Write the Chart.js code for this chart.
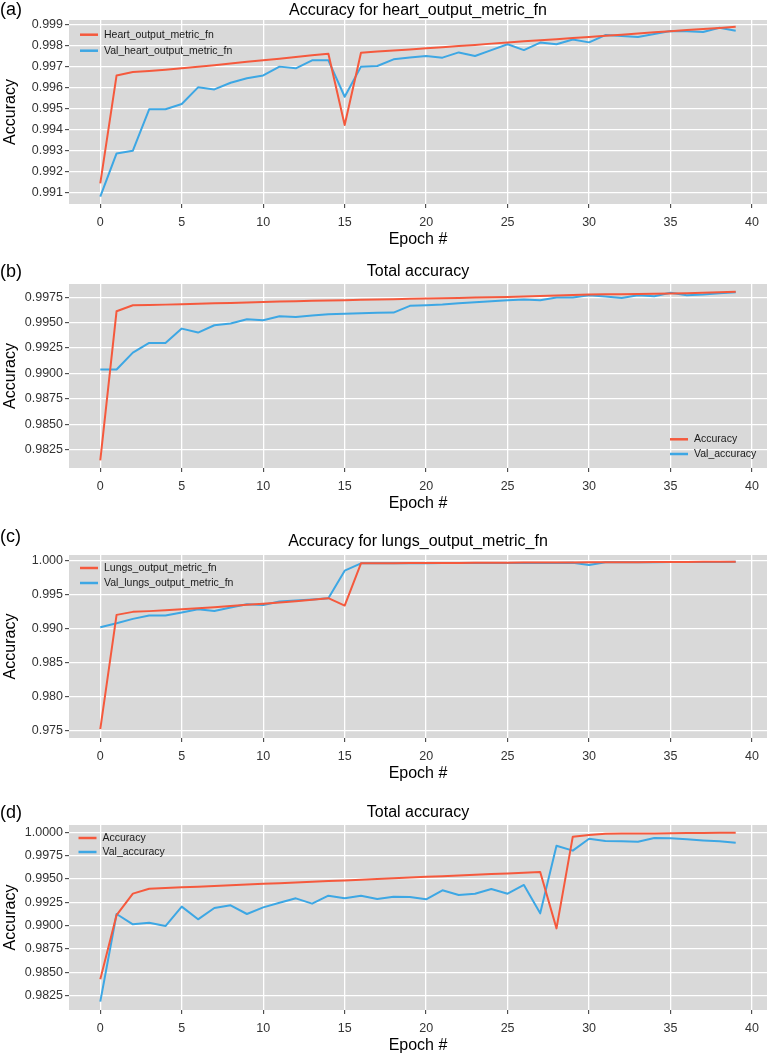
<!DOCTYPE html>
<html lang="en">
<head>
<meta charset="UTF-8">
<title>Accuracy curves</title>
<script src="https://cdn.jsdelivr.net/npm/chart.js"></script>
<style>
  body { margin: 0; background: #fff; }
  #wrap { position: relative; width: 767px; height: 1055px; overflow: hidden; }
  canvas { position: absolute; left: 0; }
</style>
</head>
<body>
<div id="wrap">
  <canvas id="chartA" width="767" height="252" style="top:0px"></canvas>
  <canvas id="chartB" width="767" height="264" style="top:252px"></canvas>
  <canvas id="chartC" width="767" height="270" style="top:516px"></canvas>
  <canvas id="chartD" width="767" height="272" style="top:786px"></canvas>
</div>
<script>
// epochs (x categories)
const epochs = [0,1,2,3,4,5,6,7,8,9,10,11,12,13,14,15,16,17,18,19,20,21,22,23,24,25,26,27,28,29,30,31,32,33,34,35,36,37,38,39];
const xTickLabels = ['0','5','10','15','20','25','30','35','40'];

// (a) heart output
const heartTrain = [0.99143,0.99659,0.99675,0.99680,0.99686,0.99693,0.99700,0.99708,0.99716,0.99724,0.99731,0.99739,0.99747,0.99755,0.99763,0.99422,0.99767,0.99773,0.99778,0.99783,0.99789,0.99794,0.99800,0.99805,0.99811,0.99816,0.99822,0.99827,0.99832,0.99838,0.99843,0.99849,0.99854,0.99859,0.99865,0.99870,0.99876,0.99881,0.99886,0.99892];
const heartVal = [0.99079,0.99286,0.99299,0.99497,0.99497,0.99522,0.99602,0.99592,0.99624,0.99645,0.99659,0.99701,0.99693,0.99731,0.99731,0.99557,0.99701,0.99704,0.99736,0.99745,0.99752,0.99744,0.99769,0.99752,0.99780,0.99808,0.99780,0.99816,0.99808,0.99831,0.99817,0.99852,0.99847,0.99843,0.99857,0.99871,0.99870,0.99867,0.99887,0.99873];
const yLabelsA = ['0.991','0.992','0.993','0.994','0.995','0.996','0.997','0.998','0.999'];

// (b) total accuracy, first model
const totalTrainB = [0.98145,0.99612,0.99671,0.99674,0.99677,0.99681,0.99685,0.99690,0.99694,0.99699,0.99704,0.99707,0.99710,0.99714,0.99717,0.99720,0.99724,0.99728,0.99731,0.99734,0.99737,0.99740,0.99743,0.99746,0.99750,0.99753,0.99757,0.99762,0.99766,0.99771,0.99776,0.99778,0.99780,0.99782,0.99784,0.99786,0.99790,0.99794,0.99799,0.99803];
const totalValB = [0.99038,0.99038,0.99205,0.99300,0.99300,0.99441,0.99402,0.99474,0.99491,0.99533,0.99524,0.99563,0.99556,0.99569,0.99583,0.99586,0.99592,0.99596,0.99599,0.99665,0.99671,0.99678,0.99691,0.99701,0.99711,0.99720,0.99727,0.99720,0.99747,0.99747,0.99770,0.99757,0.99743,0.99770,0.99760,0.99793,0.99770,0.99776,0.99789,0.99799];
const yLabelsB = ['0.9825','0.9850','0.9875','0.9900','0.9925','0.9950','0.9975'];

// (c) lungs output
const lungsTrain = [0.97524,0.99203,0.99247,0.99258,0.99270,0.99285,0.99300,0.99316,0.99332,0.99350,0.99368,0.99386,0.99404,0.99424,0.99448,0.99340,0.99961,0.99962,0.99963,0.99964,0.99965,0.99966,0.99967,0.99968,0.99969,0.99970,0.99971,0.99972,0.99973,0.99974,0.99975,0.99976,0.99977,0.99978,0.99979,0.99980,0.99981,0.99982,0.99983,0.99985];
const lungsVal = [0.99022,0.99080,0.99144,0.99193,0.99193,0.99237,0.99286,0.99261,0.99310,0.99359,0.99349,0.99398,0.99413,0.99428,0.99447,0.99853,0.99961,0.99962,0.99962,0.99963,0.99963,0.99964,0.99964,0.99965,0.99965,0.99966,0.99966,0.99967,0.99967,0.99968,0.99936,0.99975,0.99976,0.99977,0.99978,0.99979,0.99980,0.99980,0.99981,0.99982];
const yLabelsC = ['0.975','0.980','0.985','0.990','0.995','1.000'];

// (d) total accuracy, second model
const totalTrainD = [0.98425,0.99114,0.99343,0.99396,0.99404,0.99411,0.99418,0.99425,0.99433,0.99440,0.99448,0.99455,0.99463,0.99470,0.99478,0.99485,0.99493,0.99500,0.99508,0.99515,0.99523,0.99530,0.99538,0.99545,0.99553,0.99560,0.99568,0.99575,0.98971,0.99954,0.99971,0.99986,0.99987,0.99988,0.99989,0.99990,0.99992,0.99993,0.99995,0.99996];
const totalValD = [0.98186,0.99125,0.99014,0.99032,0.98996,0.99204,0.99068,0.99189,0.99218,0.99125,0.99196,0.99246,0.99293,0.99236,0.99321,0.99293,0.99321,0.99286,0.99311,0.99307,0.99282,0.99379,0.99329,0.99343,0.99393,0.99343,0.99436,0.99132,0.99857,0.99804,0.99932,0.99907,0.99904,0.99900,0.99939,0.99936,0.99925,0.99914,0.99904,0.99889];
const yLabelsD = ['0.9825','0.9850','0.9875','0.9900','0.9925','0.9950','0.9975','1.0000'];

const RED = '#F5593D';
const BLUE = '#3DA7E4';
const FONT = "'Liberation Sans', Arial, Helvetica, sans-serif";

Chart.defaults.font.family = FONT;

// grey panel, title, tag and the little legend (ggplot look)
const panelDecor = {
  id: 'panelDecor',
  beforeDraw(chart) {
    const { ctx, chartArea: a } = chart;
    ctx.save();
    ctx.fillStyle = '#D9D9D9';
    ctx.fillRect(a.left, a.top, a.right - a.left, a.bottom - a.top);
    ctx.restore();
  },
  afterDraw(chart, args, o) {
    const { ctx, chartArea: a } = chart;
    ctx.save();
    ctx.textBaseline = 'middle';
    ctx.fillStyle = '#000';
    ctx.font = '16px ' + FONT;
    ctx.textAlign = 'center';
    ctx.fillText(o.title, (a.left + a.right) / 2, o.titleY);
    ctx.font = '18px ' + FONT;
    ctx.textAlign = 'left';
    ctx.fillText(o.tag, 0, o.tagY);

    ctx.font = '10.5px ' + FONT;
    chart.data.datasets.forEach((ds, i) => {
      const y = o.legY + i * o.legGap;
      ctx.strokeStyle = ds.borderColor;
      ctx.lineWidth = 2.5;
      ctx.beginPath();
      ctx.moveTo(o.legX, y);
      ctx.lineTo(o.legX + 18, y);
      ctx.stroke();
      ctx.fillStyle = '#1A1A1A';
      ctx.fillText(ds.label, o.legX + 24, y);
    });
    ctx.restore();
  }
};

function makeChart(id, p) {
  const ctx = document.getElementById(id).getContext('2d');
  const yVals = p.yLabels.map(Number);
  const xVals = xTickLabels.map(Number);
  return new Chart(ctx, {
    type: 'line',
    data: {
      datasets: [
        { label: p.names[0], data: epochs.map((e, i) => ({ x: e, y: p.train[i] })), borderColor: RED },
        { label: p.names[1], data: epochs.map((e, i) => ({ x: e, y: p.val[i] })), borderColor: BLUE }
      ]
    },
    options: {
      responsive: false,
      animation: false,
      datasets: { line: { borderWidth: 2, pointRadius: 0, tension: 0, fill: false, borderJoinStyle: 'round' } },
      layout: { padding: { top: p.padTop, left: 0, right: 0, bottom: 0 } },
      plugins: {
        legend: { display: false },
        tooltip: { enabled: false },
        panelDecor: p.decor
      },
      scales: {
        x: {
          type: 'linear', min: -1.92, max: 40.92,
          afterBuildTicks: s => { s.ticks = xVals.map(v => ({ value: v })); },
          afterFit: s => { s.height = 48; },
          ticks: { autoSkip: false, maxRotation: 0, padding: 7, color: '#333', font: { size: 12.5 },
                   callback: (v, i) => xTickLabels[i] },
          grid: { color: '#FFFFFF', lineWidth: 1.3, tickColor: '#333', tickLength: 4, tickWidth: 1 },
          border: { display: false },
          title: { display: true, text: 'Epoch #', color: '#000', font: { size: 16 }, padding: { top: 0, bottom: 2.4 } }
        },
        y: {
          type: 'linear', min: p.yMin, max: p.yMax,
          afterBuildTicks: s => { s.ticks = yVals.map(v => ({ value: v })); },
          afterFit: s => { s.width = 69; },
          ticks: { autoSkip: false, padding: 2, color: '#333', font: { size: 12.5 },
                   callback: (v, i) => p.yLabels[i] },
          grid: { color: '#FFFFFF', lineWidth: 1.3, tickColor: '#333', tickLength: 4, tickWidth: 1 },
          border: { display: false },
          title: { display: true, text: 'Accuracy', color: '#000', font: { size: 16 }, padding: { top: 1.4, bottom: 0 } }
        }
      }
    },
    plugins: [panelDecor]
  });
}

makeChart('chartA', {
  train: heartTrain, val: heartVal, yLabels: yLabelsA, yMin: 0.99044, yMax: 0.99924, padTop: 20,
  names: ['Heart_output_metric_fn', 'Val_heart_output_metric_fn'],
  decor: { title: 'Accuracy for heart_output_metric_fn', titleY: 11, tag: '(a)', tagY: 10, legX: 80, legY: 34.7, legGap: 16 }
});
makeChart('chartB', {
  train: totalTrainB, val: totalValB, yLabels: yLabelsB, yMin: 0.98069, yMax: 0.99880, padTop: 32,
  names: ['Accuracy', 'Val_accuracy'],
  decor: { title: 'Total accuracy', titleY: 20, tag: '(b)', tagY: 19.7, legX: 670, legY: 187.3, legGap: 14.7 }
});
makeChart('chartC', {
  train: lungsTrain, val: lungsVal, yLabels: yLabelsC, yMin: 0.97393, yMax: 1.00083, padTop: 39,
  names: ['Lungs_output_metric_fn', 'Val_lungs_output_metric_fn'],
  decor: { title: 'Accuracy for lungs_output_metric_fn', titleY: 25.7, tag: '(c)', tagY: 20.7, legX: 80, legY: 52, legGap: 15 }
});
makeChart('chartD', {
  train: totalTrainD, val: totalValD, yLabels: yLabelsD, yMin: 0.98096, yMax: 1.00079, padTop: 39,
  names: ['Accuracy', 'Val_accuracy'],
  decor: { title: 'Total accuracy', titleY: 27, tag: '(d)', tagY: 27.3, legX: 78.5, legY: 52, legGap: 14 }
});
</script>
</body>
</html>
